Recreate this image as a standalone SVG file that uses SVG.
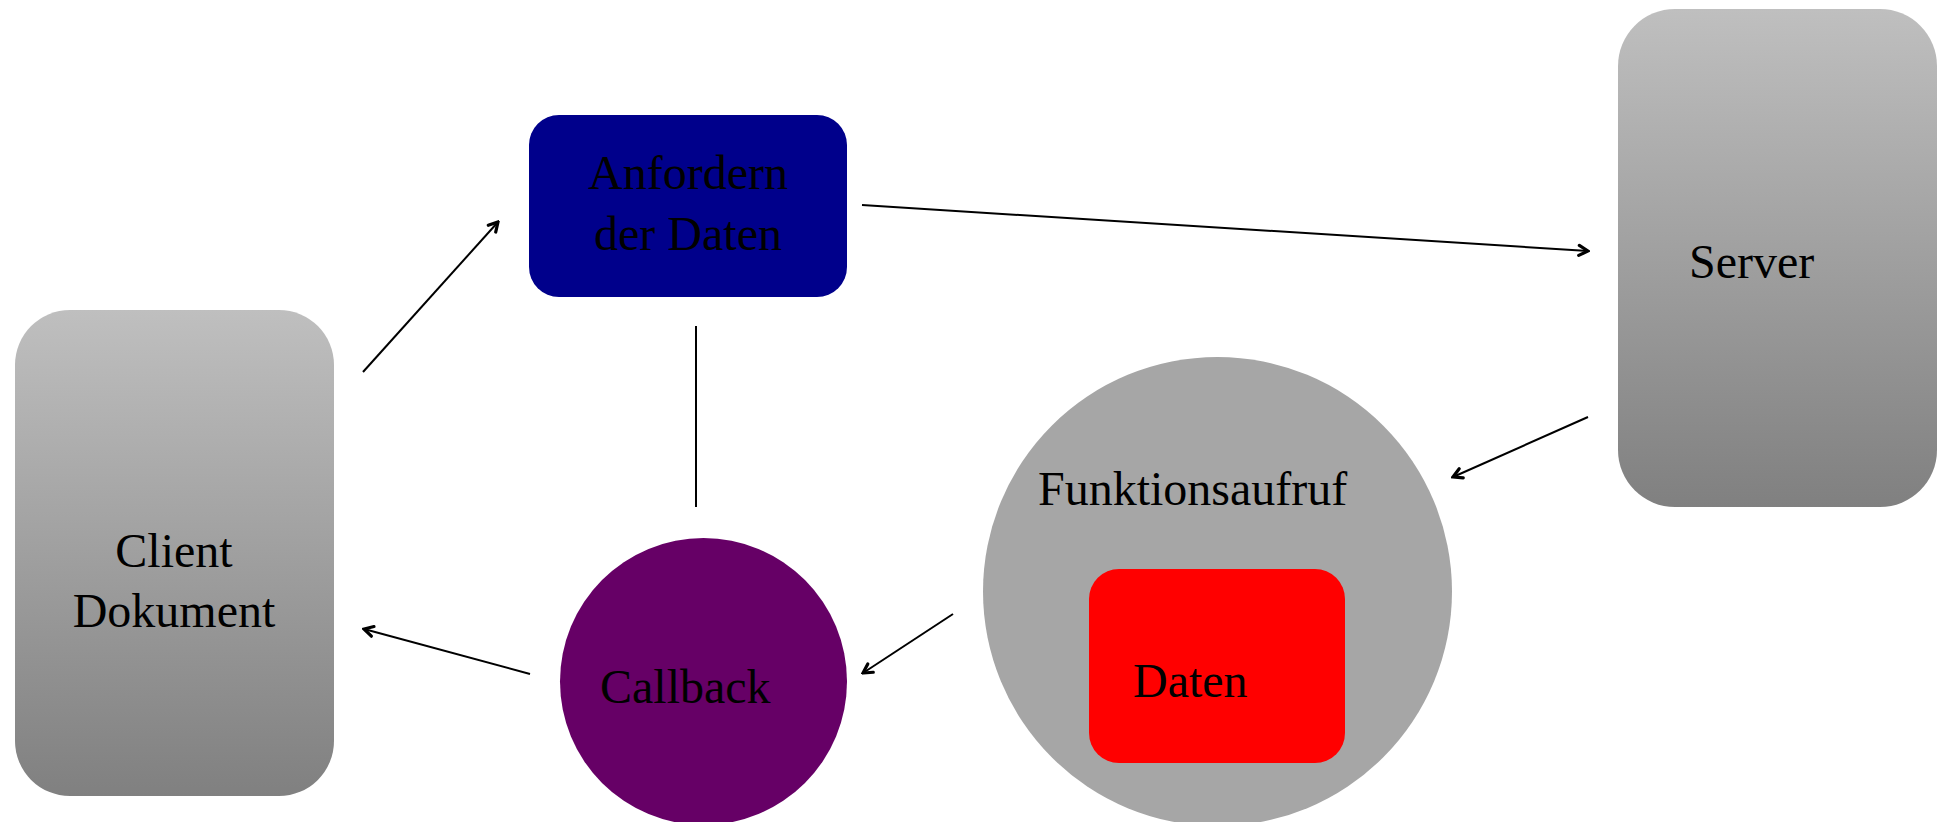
<svg xmlns="http://www.w3.org/2000/svg" width="1939" height="822" viewBox="0 0 1939 822">
  <style>
    .lbl { font-family: "Liberation Serif", "Times New Roman", serif; font-size: 48px; fill: #000000; }
    .conn { stroke: #000000; stroke-width: 2; fill: none; }
  </style>
  <defs>
    <linearGradient id="grey" x1="0" y1="0" x2="0" y2="1">
      <stop offset="0" stop-color="#bfbfbf"/>
      <stop offset="1" stop-color="#808080"/>
    </linearGradient>
    <marker id="arrow" viewBox="0 0 14 14" refX="12" refY="7" markerWidth="14" markerHeight="14" markerUnits="userSpaceOnUse" orient="auto">
      <path d="M3,2 L12,7 L3,12" fill="none" stroke="#000000" stroke-width="3.2" stroke-linecap="round" stroke-linejoin="miter"/>
    </marker>
  </defs>
  <rect width="1939" height="822" fill="#ffffff"/>

  <g id="client">
    <rect x="15" y="310" width="319" height="486" rx="55" ry="55" fill="url(#grey)"/>
    <text class="lbl" x="174" y="567" text-anchor="middle">Client</text>
    <text class="lbl" x="174" y="627" text-anchor="middle">Dokument</text>
  </g>

  <g id="anfordern">
    <rect x="529" y="115" width="318" height="182" rx="30" ry="30" fill="#00008b"/>
    <text class="lbl" x="688" y="189" text-anchor="middle">Anfordern</text>
    <text class="lbl" x="688" y="250" text-anchor="middle">der Daten</text>
  </g>

  <g id="server">
    <rect x="1618" y="9" width="319" height="498" rx="57" ry="57" fill="url(#grey)"/>
    <text class="lbl" x="1689" y="278">Server</text>
  </g>

  <g id="funktionsaufruf">
    <circle cx="1217.5" cy="591.5" r="234.5" fill="#a6a6a6"/>
    <text class="lbl" x="1038" y="505">Funktionsaufruf</text>
  </g>

  <g id="daten">
    <rect x="1089" y="569" width="256" height="194" rx="30" ry="30" fill="#ff0000"/>
    <text class="lbl" x="1133" y="697">Daten</text>
  </g>

  <g id="callback">
    <circle cx="703.5" cy="681.5" r="143.5" fill="#660066"/>
    <text class="lbl" x="600" y="703">Callback</text>
  </g>

  <g id="connectors">
    <line class="conn" x1="363" y1="372" x2="498" y2="222" marker-end="url(#arrow)"/>
    <line class="conn" x1="862" y1="205" x2="1588" y2="251" marker-end="url(#arrow)"/>
    <line class="conn" x1="1588" y1="417" x2="1453" y2="477" marker-end="url(#arrow)"/>
    <line class="conn" x1="953" y1="614" x2="863" y2="673" marker-end="url(#arrow)"/>
    <line class="conn" x1="530" y1="674" x2="364" y2="629" marker-end="url(#arrow)"/>
    <line class="conn" x1="696" y1="326" x2="696" y2="507"/>
  </g>
</svg>
